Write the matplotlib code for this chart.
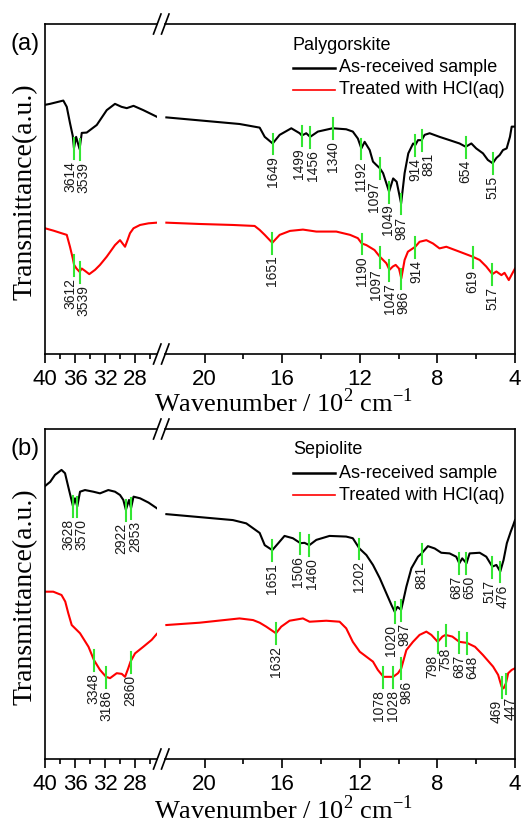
import numpy as np
import matplotlib
matplotlib.use("Agg")
import matplotlib.pyplot as plt
from matplotlib.lines import Line2D

plt.rcParams['font.family'] = ['Liberation Sans', 'DejaVu Sans']

# wavenumber in 10^2 cm^-1, transmittance in a.u. (0-100 inside the frame)
pal_asrec_wn = [40.0, 39.33, 37.56, 37.1, 36.67, 36.3, 36.14, 35.85, 35.39, 35.1, 34.44, 33.1,
                31.77, 30.67, 29.8, 29.1, 28.2, 26.9, 25.1,
                21.97, 18.2, 17.16, 16.9, 16.49, 16.13, 15.53, 15.1, 14.99, 14.76, 14.56, 14.16,
                13.4, 12.7, 12.36, 12.1, 11.92, 11.75, 11.49, 11.32, 11.15, 10.97, 10.8, 10.49,
                10.28, 10.1, 9.87, 9.69, 9.5, 9.25, 9.14, 9.0, 8.81, 8.66, 8.4, 7.89, 7.37, 6.86,
                6.54, 6.25, 6.0, 5.65, 5.4, 5.15, 4.96, 4.79, 4.62, 4.43, 4.26, 4.17, 4.0]
pal_asrec_t = [75.5, 75.8, 76.8, 74.9, 70.0, 66.1, 62.4, 65.8, 62.1, 67.0, 67.1, 69.4,
               73.9, 75.8, 74.9, 74.5, 75.2, 73.9, 71.9,
               71.7, 69.7, 68.6, 65.8, 63.8, 66.4, 68.4, 66.9, 66.2, 66.9, 65.8, 67.4,
               68.4, 68.1, 67.4, 65.3, 62.3, 64.3, 61.8, 58.3, 57.3, 56.3, 54.8, 49.2,
               53.2, 52.2, 45.6, 54.8, 60.8, 63.8, 63.3, 64.8, 64.8, 66.4, 66.9, 65.8, 64.8, 63.8,
               62.8, 63.8, 62.3, 60.8, 58.8, 57.8, 59.4, 60.3, 61.8, 62.3, 65.8, 68.9, 68.9]
pal_asrec_peaks = [3614, 3539, 1649, 1499, 1456, 1340, 1192, 1097, 1049, 987, 914, 881, 654, 515]

pal_hcl_wn = [40.0, 38.9, 37.8, 37.1, 36.67, 36.3, 36.12, 35.8, 35.39, 35.1, 34.67, 34.1, 33.33,
              32.67, 31.77, 30.67, 30.0, 29.33, 29.0, 28.67, 28.2, 27.33, 26.2, 25.1,
              21.97, 20.26, 18.54, 17.42, 17.16, 16.9, 16.51, 16.13, 15.6, 14.93, 14.24, 13.21,
              12.5, 12.1, 11.9, 11.66, 11.24, 10.97, 10.8, 10.63, 10.47, 10.3, 10.15, 9.98, 9.86,
              9.69, 9.52, 9.14, 8.92, 8.57, 8.23, 7.89, 7.54, 6.86, 6.19, 5.82, 5.48, 5.17, 4.96,
              4.7, 4.54, 4.32, 4.14, 4.0]
pal_hcl_t = [38.1, 37.4, 36.6, 36.1, 32.5, 29.0, 27.0, 25.9, 24.9, 25.9, 25.2, 24.2, 25.5,
             27.0, 29.5, 33.0, 34.5, 32.5, 34.5, 36.6, 38.1, 39.1, 39.6, 39.8,
             39.8, 39.4, 39.1, 38.8, 37.6, 36.1, 33.7, 36.1, 37.3, 37.7, 37.1, 37.1,
             36.1, 35.1, 33.5, 33.0, 31.5, 29.5, 28.5, 27.5, 25.5, 26.5, 27.0, 25.9, 22.9,
             28.5, 31.0, 32.5, 34.0, 34.5, 33.5, 32.0, 32.5, 31.0, 29.5, 28.5, 26.5, 24.2, 25.0,
             23.9, 24.6, 22.4, 24.4, 25.9]
pal_hcl_peaks = [3612, 3539, 1651, 1190, 1097, 1047, 986, 914, 619, 517]

sep_asrec_wn = [40.0, 39.3, 38.67, 37.8, 37.33, 36.9, 36.58, 36.28, 36.0, 35.7, 35.33, 34.67,
                33.56, 32.67, 31.56, 30.67, 30.0, 29.56, 29.22, 28.8, 28.53, 28.2, 27.33, 26.2, 25.1,
                21.97, 18.54, 17.85, 17.16, 16.9, 16.51, 16.2, 15.88, 15.45, 15.06, 14.85, 14.6,
                14.24, 13.56, 12.7, 12.36, 12.02, 11.66, 11.32, 10.97, 10.63, 10.37, 10.2, 10.06,
                9.87, 9.77, 9.6, 9.34, 9.0, 8.81, 8.49, 8.14, 7.8, 7.37, 7.03, 6.87, 6.72, 6.5,
                6.34, 5.82, 5.48, 5.17, 4.96, 4.76, 4.59, 4.42, 4.22, 4.09, 4.0]
sep_asrec_t = [82.7, 84.0, 86.1, 87.6, 86.6, 82.5, 79.5, 76.7, 79.0, 76.5, 81.0, 81.5,
               81.0, 80.5, 81.5, 81.0, 80.0, 78.5, 75.5, 78.5, 76.0, 79.5, 79.0, 77.7, 76.0,
               74.2, 72.4, 71.4, 68.5, 64.8, 63.3, 65.4, 67.6, 66.9, 65.4, 65.5, 64.8,
               66.4, 67.6, 67.4, 66.9, 63.8, 61.8, 58.8, 54.8, 50.2, 46.7, 44.6, 46.1,
               45.2, 47.7, 52.2, 57.8, 61.3, 62.3, 64.5, 63.8, 62.5, 62.3, 61.3, 59.3, 60.8, 59.3,
               62.3, 62.5, 61.3, 58.3, 58.8, 56.8, 60.3, 65.4, 68.9, 70.9, 72.4]
sep_asrec_peaks = [3628, 3570, 2922, 2853, 1651, 1506, 1460, 1202, 1020, 987, 881, 687, 650, 517, 476]

sep_hcl_wn = [40.0, 38.9, 37.8, 37.3, 36.9, 36.44, 35.33, 34.2, 33.48, 32.67, 31.86, 31.33,
              30.44, 29.77, 29.33, 28.9, 28.6, 28.0, 26.9, 25.78, 25.1,
              21.97, 20.26, 18.2, 17.5, 17.16, 16.82, 16.32, 16.05, 15.62, 14.93, 14.59, 13.73,
              13.04, 12.7, 12.36, 12.0, 11.66, 11.32, 11.07, 10.78, 10.28, 10.03, 9.86, 9.6,
              9.26, 8.92, 8.57, 8.31, 7.98, 7.74, 7.58, 7.23, 6.87, 6.48, 6.06, 5.65, 5.13, 4.87,
              4.69, 4.59, 4.47, 4.35, 4.17, 4.0]
sep_hcl_t = [50.7, 50.7, 49.7, 47.7, 44.2, 40.6, 38.1, 34.0, 30.0, 27.0, 24.9, 24.5,
             26.0, 25.8, 24.9, 27.5, 29.5, 32.0, 34.0, 36.1, 37.9,
             40.6, 41.3, 42.6, 42.1, 41.3, 40.1, 38.1, 40.1, 41.9, 42.6, 41.6, 41.9,
             41.6, 39.6, 35.5, 32.5, 31.0, 29.5, 27.0, 24.9, 24.9, 26.0, 27.5, 33.0,
             35.5, 37.6, 38.6, 37.6, 35.5, 37.1, 37.6, 37.1, 35.5, 35.2, 34.0, 31.5, 28.0, 25.5,
             21.9, 21.4, 22.9, 26.0, 27.0, 27.5]
sep_hcl_peaks = [3348, 3186, 2860, 1632, 1078, 1028, 986, 798, 758, 687, 648, 469, 447]

left_major = [40, 36, 32, 28]
left_minor = [38, 34, 30, 26]
right_major = [20, 16, 12, 8, 4]
right_minor = [18, 14, 10, 6]

W, H = 522, 825
GREEN = '#33e633'
SERIF = 'Liberation Serif'

plt.rcParams['mathtext.fontset'] = 'custom'
plt.rcParams['mathtext.rm'] = SERIF

fig = plt.figure(figsize=(W / 100, H / 100), dpi=100)


def px_axes(x0, x1, ytop, ybot):
    return fig.add_axes([x0 / W, 1 - ybot / H, (x1 - x0) / W, (ybot - ytop) / H])


def spread(xs, gap):
    xs = list(xs)
    for _ in range(300):
        moved = False
        for i in range(len(xs) - 1):
            d = xs[i + 1] - xs[i]
            if d < gap - 1e-6:
                s = (gap - d) / 2
                xs[i] -= s
                xs[i + 1] += s
                moved = True
        if not moved:
            break
    return xs


def mark_peaks(axL, axR, wn, t, peaks):
    wn = np.array(wn)
    t = np.array(t)
    for ax, sel in ((axL, [p for p in peaks if p > 2400]), (axR, [p for p in peaks if p < 2400])):
        if not sel:
            continue
        xs = np.array(sel) / 100.0
        yc = np.interp(xs, wn[::-1], t[::-1])
        pts = ax.transData.transform(np.column_stack([xs, yc]))
        lx = spread(pts[:, 0], 13.5)
        lxd = ax.transData.inverted().transform(np.column_stack([lx, pts[:, 1]]))[:, 0]
        for x, y, xl, p in zip(xs, yc, lxd, sel):
            ax.plot([x, x], [y + 3.0, y - 3.3], color=GREEN, lw=1.5, zorder=4)
            ax.text(xl, y - 3.9, str(p), rotation=90, ha='center', va='top',
                    fontsize=10, color='#1a1a1a', zorder=5)


def make_panel(ytop, ybot, curves, letter, title, label_base):
    axL = px_axes(45, 157, ytop, ybot)
    axR = px_axes(165, 515, ytop, ybot)
    for ax, lim, maj, mnr in ((axL, (40, 25.07), left_major, left_minor),
                              (axR, (22.04, 4), right_major, right_minor)):
        ax.set_xlim(*lim)
        ax.set_ylim(0, 100)
        ax.set_yticks([])
        ax.set_xticks(maj)
        ax.set_xticks(mnr, minor=True)
        ax.tick_params(axis='x', which='major', direction='out', length=6.5, width=1.2,
                       labelsize=16, pad=4)
        ax.tick_params(axis='x', which='minor', direction='out', length=3.5, width=1.2)
        for sp in ax.spines.values():
            sp.set_linewidth(1.2)
        ax.patch.set_alpha(0)
    axL.spines['right'].set_visible(False)
    axR.spines['left'].set_visible(False)

    for wn, t, peaks, color in curves:
        wn_a = np.array(wn)
        t_a = np.array(t)
        m = wn_a > 23.5
        axL.plot(wn_a[m], t_a[m], color=color, lw=1.5)
        axR.plot(wn_a[~m], t_a[~m], color=color, lw=1.5)
        mark_peaks(axL, axR, wn, t, peaks)

    # axis break marks
    for y in (ytop, ybot):
        for x0 in (153.5, 161.5):
            fig.add_artist(Line2D([x0 / W, (x0 + 7.5) / W], [1 - (y + 10) / H, 1 - (y - 10) / H],
                                  transform=fig.transFigure, color='k', lw=1.2))

    # legend
    fig.text(293 / W, 1 - (ytop + 21) / H, title, fontsize=13, va='center', ha='left')
    for dy, color, lab in ((44, 'k', 'As-received sample'), (66, 'r', 'Treated with HCl(aq)')):
        yy = 1 - (ytop + dy) / H
        fig.add_artist(Line2D([293 / W, 335 / W], [yy, yy], transform=fig.transFigure,
                              color=color, lw=1.8 if color == 'k' else 1.2))
        fig.text(339 / W, yy, lab, fontsize=13, va='center', ha='left')

    fig.text(25 / W, 1 - (ytop + 20) / H, letter, fontsize=17, ha='center', va='center')
    fig.text(25 / W, 1 - ((ytop + ybot) / 2 + 3) / H, 'Transmittance(a.u.)', rotation=90,
             family=SERIF, fontsize=20, ha='center', va='center')
    fig.text(283 / W, 1 - label_base / H, r'Wavenumber / 10$^{2}$ cm$^{-1}$',
             family=SERIF, fontsize=19, ha='center', va='baseline')


make_panel(24, 354,
           [(pal_asrec_wn, pal_asrec_t, pal_asrec_peaks, 'k'),
            (pal_hcl_wn, pal_hcl_t, pal_hcl_peaks, 'r')],
           '(a)', 'Palygorskite', 412)
make_panel(429, 759,
           [(sep_asrec_wn, sep_asrec_t, sep_asrec_peaks, 'k'),
            (sep_hcl_wn, sep_hcl_t, sep_hcl_peaks, 'r')],
           '(b)', 'Sepiolite', 819)

fig.savefig('out.png', dpi=100)
